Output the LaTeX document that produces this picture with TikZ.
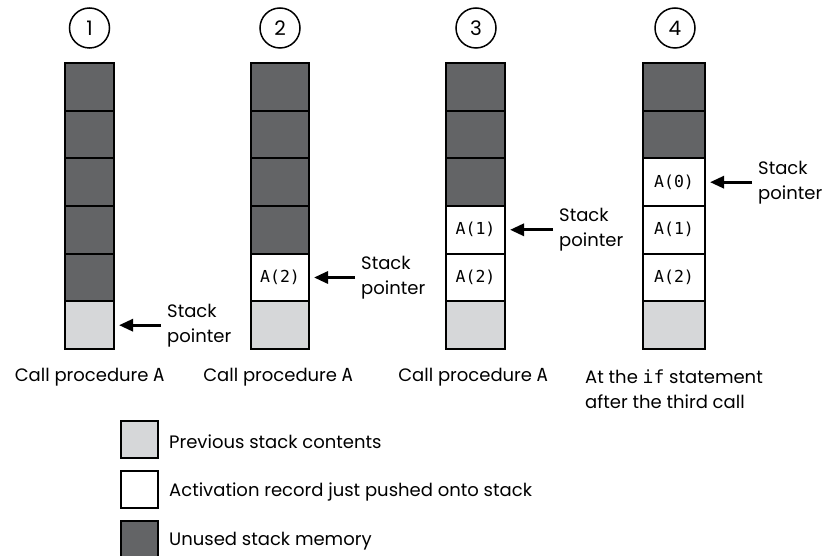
\documentclass[tikz,border=0pt]{standalone}
\usepackage{fontspec}
\setmainfont{Poppins}
\setmonofont{DejaVu Sans Mono}
\usetikzlibrary{arrows.meta}
\definecolor{unused}{HTML}{636466}
\definecolor{prev}{HTML}{D6D7D9}
\tikzset{
 cell/.style={draw=black, line width=2pt, minimum height=47.67pt, inner sep=0pt, font=\ttfamily\fontsize{16.5}{16.5}\selectfont},
 unusedcell/.style={cell, fill=unused},
 prevcell/.style={cell, fill=prev},
 reccell/.style={cell, fill=white},
 numcircle/.style={draw, circle, line width=1.5pt, minimum size=40pt, inner sep=0pt, font=\fontsize{20}{20}\selectfont},
 ptrlabel/.style={anchor=west, align=left, inner sep=0pt, font=\fontsize{18}{25}\selectfont},
 ptr/.style={line width=3pt, -{Triangle[length=14pt,width=12pt]}},
 caption/.style={inner sep=0pt, font=\fontsize{18}{25}\selectfont},
 legbox/.style={draw, line width=2pt, minimum size=37pt, inner sep=0pt},
 legtext/.style={anchor=west, inner sep=0pt, font=\fontsize{18}{18}\selectfont},
}
\begin{document}
\begin{tikzpicture}[x=1pt,y=-1pt]
\useasboundingbox (0,0) rectangle (823,556);
% column 1
\node[numcircle] (n1) at (89.5,28) {1};
\foreach \r in {1,...,5} \node[unusedcell, minimum width=49pt] (c1r\r) at (89.5,{63+47.67*(\r-0.5)}) {};
\node[prevcell, minimum width=49pt] (c1r6) at (89.5,325.2) {};
\node[ptrlabel] (p1) at ([xshift=52pt]c1r6.east) {Stack\\pointer};
\draw[ptr] ([xshift=-6pt]p1.west) -- ([xshift=4pt]c1r6.east);
\node[caption] (t1) at (89.5,377) {Call procedure \texttt{A}};
% column 2
\node[numcircle] (n2) at (280,28) {2};
\foreach \r in {1,...,4} \node[unusedcell, minimum width=58pt] (c2r\r) at (280,{63+47.67*(\r-0.5)}) {};
\node[reccell, minimum width=58pt] (c2r5) at (280,277.5) {A(2)};
\node[prevcell, minimum width=58pt] (c2r6) at (280,325.2) {};
\node[ptrlabel] (p2) at ([xshift=51pt]c2r5.east) {Stack\\pointer};
\draw[ptr] ([xshift=-6pt]p2.west) -- ([xshift=4pt]c2r5.east);
\node[caption] (t2) at (278,377) {Call procedure \texttt{A}};
% column 3
\node[numcircle] (n3) at (476,28) {3};
\foreach \r in {1,...,3} \node[unusedcell, minimum width=59pt] (c3r\r) at (475.5,{63+47.67*(\r-0.5)}) {};
\node[reccell, minimum width=59pt] (c3r4) at (475.5,229.8) {A(1)};
\node[reccell, minimum width=59pt] (c3r5) at (475.5,277.5) {A(2)};
\node[prevcell, minimum width=59pt] (c3r6) at (475.5,325.2) {};
\node[ptrlabel] (p3) at ([xshift=53pt]c3r4.east) {Stack\\pointer};
\draw[ptr] ([xshift=-6pt]p3.west) -- ([xshift=4pt]c3r4.east);
\node[caption] (t3) at (473,377) {Call procedure \texttt{A}};
% column 4
\node[numcircle] (n4) at (675,28) {4};
\foreach \r in {1,...,2} \node[unusedcell, minimum width=62pt] (c4r\r) at (674,{63+47.67*(\r-0.5)}) {};
\node[reccell, minimum width=62pt] (c4r3) at (674,182.2) {A(0)};
\node[reccell, minimum width=62pt] (c4r4) at (674,229.8) {A(1)};
\node[reccell, minimum width=62pt] (c4r5) at (674,277.5) {A(2)};
\node[prevcell, minimum width=62pt] (c4r6) at (674,325.2) {};
\node[ptrlabel] (p4) at ([xshift=52pt]c4r3.east) {Stack\\pointer};
\draw[ptr] ([xshift=-6pt]p4.west) -- ([xshift=4pt]c4r3.east);
\node[caption, align=left] (t4) at (674,389.5) {At the \texttt{if} statement\\after the third call};
% legend
\node[legbox, fill=prev] (l1) at (139.5,439.5) {};
\node[legtext] (lt1) at ([xshift=10pt,yshift=-2pt]l1.east) {Previous stack contents};
\node[legbox, fill=white] (l2) at (139.5,489.5) {};
\node[legtext] (lt2) at ([xshift=10pt,yshift=-2pt]l2.east) {Activation record just pushed onto stack};
\node[legbox, fill=unused] (l3) at (139.5,539.5) {};
\node[legtext] (lt3) at ([xshift=10pt,yshift=-2pt]l3.east) {Unused stack memory};
\end{tikzpicture}
\end{document}
